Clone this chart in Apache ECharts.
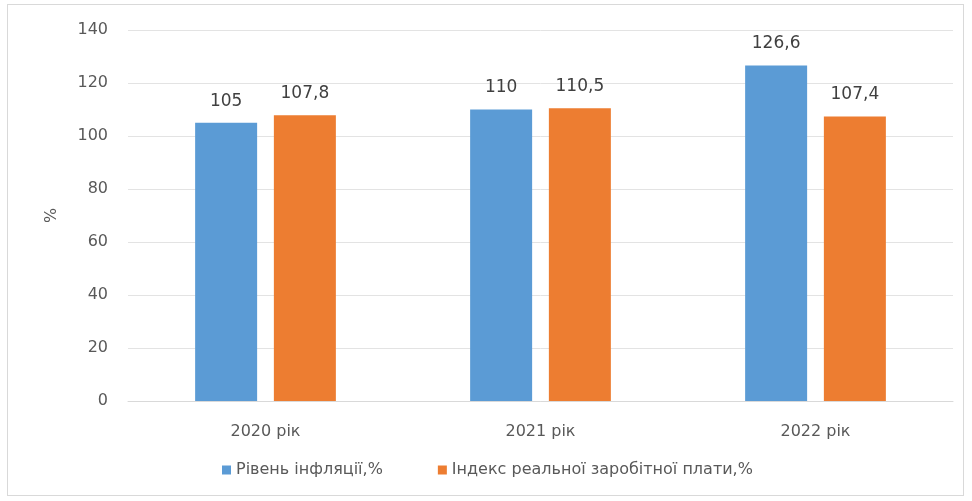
<!DOCTYPE html>
<html>
<head>
<meta charset="utf-8">
<script src="https://cdn.jsdelivr.net/npm/echarts@6/dist/echarts.min.js"></script>
<style>
  html, body { margin: 0; padding: 0; background: #fff; }
  #frame { position: absolute; left: 7px; top: 4px; width: 957px; height: 492px; border: 1px solid #d9d9d9; box-sizing: border-box; }
  #chart { width: 972px; height: 501px; }
</style>
</head>
<body>
<div id="frame"></div>
<div id="chart"></div>
<script>
// Categories (years) and the two series
const years = ['2020 рік', '2021 рік', '2022 рік'];
const inflation = [105, 110, 126.6];
const realWage = [107.8, 110.5, 107.4];
const seriesNames = ['Рівень інфляції,%', 'Індекс реальної заробітної плати,%'];
const yTicks = { min: 0, max: 140, step: 20 };

const fmt = v => String(v).replace('.', ',');
const font = '"DejaVu Sans", sans-serif';

const chart = echarts.init(document.getElementById('chart'), null, { renderer: 'canvas' });
const labelCfg = {
  show: true,
  position: 'top',
  distance: 13,
  color: '#404040',
  fontFamily: font,
  fontSize: 17,
  formatter: p => fmt(p.value)
};
chart.setOption({
  animation: false,
  backgroundColor: 'transparent',
  textStyle: { fontFamily: font },
  grid: { left: 128, right: 19, top: 30, bottom: 100, containLabel: false },
  legend: {
    top: 457,
    left: 217,
    itemWidth: 9,
    itemHeight: 9,
    itemGap: 55,
    icon: 'rect',
    textStyle: { color: '#595959', fontSize: 16, fontFamily: font },
    data: seriesNames
  },
  xAxis: {
    type: 'category',
    data: years,
    axisLine: { show: true, lineStyle: { color: '#d9d9d9' } },
    axisTick: { show: false },
    axisLabel: { color: '#595959', fontSize: 16, margin: 23, fontFamily: font }
  },
  yAxis: {
    type: 'value',
    min: yTicks.min,
    max: yTicks.max,
    interval: yTicks.step,
    name: '%',
    nameLocation: 'middle',
    nameGap: 68,
    nameRotate: 90,
    nameTextStyle: { color: '#595959', fontSize: 16, fontFamily: font },
    axisLine: { show: false },
    axisTick: { show: false },
    axisLabel: { color: '#595959', fontSize: 16, margin: 20, fontFamily: font },
    splitLine: { lineStyle: { color: '#e3e3e3' } }
  },
  series: [
    {
      name: seriesNames[0],
      type: 'bar',
      data: inflation,
      barWidth: 62,
      barGap: '27%',
      itemStyle: { color: '#5b9bd5' },
      label: labelCfg
    },
    {
      name: seriesNames[1],
      type: 'bar',
      data: realWage,
      barWidth: 62,
      barGap: '27%',
      itemStyle: { color: '#ed7d31' },
      label: labelCfg
    }
  ]
});
</script>
</body>
</html>
